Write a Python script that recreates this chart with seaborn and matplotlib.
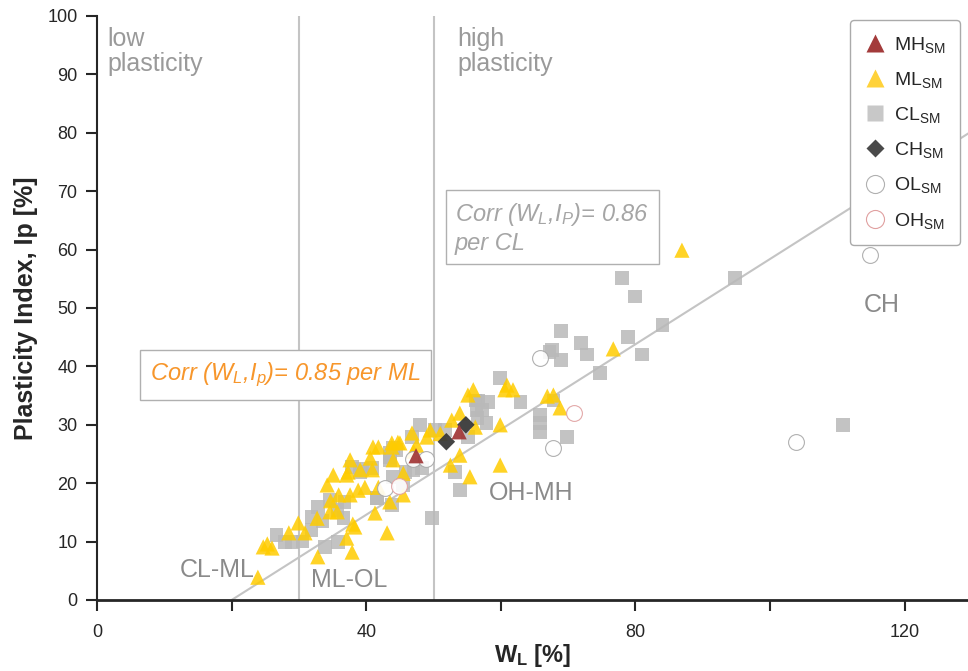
import matplotlib
matplotlib.use("Agg")
import matplotlib.pyplot as plt
import seaborn as sns
import pandas as pd
import numpy as np
from matplotlib.lines import Line2D

# liquid limit W_L [%] and plasticity index Ip [%] per soil group
wl_ml = [23.9, 24.7, 26.0, 25.3, 29.9, 30.9, 32.8, 32.7, 34.6, 35.7, 37.1, 37.9, 38.3, 35.1, 34.2,
         37.3, 38.8, 37.6, 39.8, 40.9, 39.1, 41.0, 41.8, 40.6, 41.3, 43.1, 43.5, 45.5, 43.8, 45.0,
         44.0, 46.8, 49.0, 47.5, 45.5, 41.8, 53.9, 52.5, 55.4, 59.9, 59.9, 53.9, 52.7, 55.1, 55.9,
         60.9, 61.8, 60.6, 56.2, 49.5, 86.9, 76.7, 66.9, 67.8, 68.8, 37.6, 37.1, 43.8, 44.7, 35.9,
         34.7, 38.0, 47.0, 51.0, 28.5]
ip_ml = [3.9, 9.1, 8.9, 9.6, 13.2, 11.5, 7.4, 14.0, 15.1, 15.1, 10.6, 8.2, 12.5, 21.4, 19.7,
         21.9, 18.8, 18.0, 19.3, 22.3, 22.3, 26.2, 26.2, 24.3, 14.9, 11.5, 16.8, 18.0, 26.9, 26.9,
         24.0, 28.6, 27.9, 26.5, 21.7, 19.3, 24.8, 23.1, 21.1, 23.1, 30.0, 32.0, 30.8, 35.1, 36.0,
         36.8, 36.0, 36.0, 29.6, 29.1, 59.9, 43.0, 34.9, 35.1, 32.9, 24.0, 21.4, 26.2, 27.0, 18.0,
         17.0, 13.0, 25.5, 28.5, 11.5]

wl_cl = [26.7, 27.9, 29.0, 31.9, 32.8, 33.9, 35.8, 31.9, 34.6, 36.8, 36.6, 35.7, 37.9, 39.1, 40.9,
         41.6, 43.8, 44.0, 45.8, 45.5, 44.0, 46.8, 48.0, 48.3, 49.8, 50.2, 51.7, 53.2, 53.9, 55.1,
         56.5, 57.2, 58.1, 57.9, 59.9, 62.9, 56.6, 47.0, 43.5, 78.0, 79.9, 84.0, 78.9, 81.0, 74.7,
         72.8, 71.9, 68.9, 67.2, 67.6, 68.9, 65.8, 65.8, 65.8, 69.8, 67.8, 56.2, 56.4, 94.8, 110.8,
         39.4, 43.5, 44.5, 41.6, 43.5, 30.5, 33.5]
ip_cl = [11.1, 9.9, 9.9, 12.0, 15.9, 9.1, 9.9, 14.2, 17.1, 16.8, 14.0, 15.4, 22.8, 21.9, 22.6,
         17.5, 16.3, 21.1, 21.9, 19.7, 26.0, 27.9, 30.0, 22.6, 14.0, 29.1, 29.1, 21.9, 18.8, 27.9,
         31.2, 32.5, 33.9, 30.3, 38.0, 33.9, 34.2, 22.3, 24.5, 55.1, 52.0, 47.1, 45.0, 42.0, 38.9,
         42.0, 44.0, 46.1, 42.5, 42.8, 41.1, 31.7, 30.3, 28.8, 27.9, 34.2, 34.2, 32.5, 55.1, 30.0,
         22.4, 25.2, 25.7, 17.5, 24.0, 10.0, 13.5]

wl_mh = [47.4, 53.8]
ip_mh = [24.7, 28.8]
wl_ch = [51.9, 54.8]
ip_ch = [27.1, 30.0]
wl_ol = [46.9, 48.9, 42.8, 65.8, 67.8, 103.9, 114.9]
ip_ol = [24.1, 24.1, 19.2, 41.4, 26.0, 27.1, 59.1]
wl_oh = [44.9, 70.9]
ip_oh = [19.5, 32.0]

sns.set_theme(style="ticks")
plt.rcParams['font.family'] = ['Liberation Sans', 'DejaVu Sans']
plt.rcParams['mathtext.fontset'] = 'custom'
plt.rcParams['mathtext.rm'] = 'Liberation Sans'
plt.rcParams['mathtext.it'] = 'Liberation Sans:italic'
plt.rcParams['mathtext.bf'] = 'Liberation Sans:bold'

fig = plt.figure(figsize=(9.68, 6.71), dpi=100)
ax = fig.add_axes([97/968, 71/671, 871/968, 584/671])

# helper lines: A-line and plasticity limits
aline_x = np.array([20, 130])
ax.plot(aline_x, 0.73*(aline_x-20), color='#c4c4c4', lw=1.5, zorder=1)
ax.axvline(30, color='#c4c4c4', lw=1.5, zorder=1)
ax.axvline(50, color='#c4c4c4', lw=1.5, zorder=1)

df_cl = pd.DataFrame({'WL': wl_cl, 'Ip': ip_cl})
df_ml = pd.DataFrame({'WL': wl_ml, 'Ip': ip_ml})
df_mh = pd.DataFrame({'WL': wl_mh, 'Ip': ip_mh})
df_ch = pd.DataFrame({'WL': wl_ch, 'Ip': ip_ch})
df_ol = pd.DataFrame({'WL': wl_ol, 'Ip': ip_ol})
df_oh = pd.DataFrame({'WL': wl_oh, 'Ip': ip_oh})

sns.scatterplot(data=df_cl, x='WL', y='Ip', ax=ax, marker='s', s=95, color='#b9b9b9',
                edgecolor='none', alpha=0.85, zorder=3)
sns.scatterplot(data=df_ml, x='WL', y='Ip', ax=ax, marker='^', s=120, color='#ffcc00',
                edgecolor='none', alpha=0.85, zorder=3)
sns.scatterplot(data=df_ol, x='WL', y='Ip', ax=ax, marker='o', s=130, color='white',
                edgecolor='#a8a8a8', linewidth=0.8, alpha=0.9, zorder=4)
sns.scatterplot(data=df_oh, x='WL', y='Ip', ax=ax, marker='o', s=130, color='white',
                edgecolor='#e0a0a0', linewidth=0.8, alpha=0.9, zorder=4)
sns.scatterplot(data=df_ch, x='WL', y='Ip', ax=ax, marker='D', s=80, color='#3a3a3a',
                edgecolor='none', alpha=0.95, zorder=5)
sns.scatterplot(data=df_mh, x='WL', y='Ip', ax=ax, marker='^', s=120, color='#a33b3b',
                edgecolor='none', alpha=0.95, zorder=5)

# legend
handles = [
    Line2D([], [], ls='none', marker='^', ms=13, color='#a33b3b', mec='none'),
    Line2D([], [], ls='none', marker='^', ms=13, color='#ffd23a', mec='none'),
    Line2D([], [], ls='none', marker='s', ms=12, color='#c8c8c8', mec='none'),
    Line2D([], [], ls='none', marker='D', ms=9, color='#4a4a4a', mec='none'),
    Line2D([], [], ls='none', marker='o', ms=13, mfc='white', mec='#b0b0b0', mew=0.8),
    Line2D([], [], ls='none', marker='o', ms=13, mfc='white', mec='#e0a0a0', mew=0.8),
]
labels = [r'MH$_{\mathrm{SM}}$', r'ML$_{\mathrm{SM}}$', r'CL$_{\mathrm{SM}}$',
          r'CH$_{\mathrm{SM}}$', r'OL$_{\mathrm{SM}}$', r'OH$_{\mathrm{SM}}$']
leg = ax.legend(handles, labels, loc='upper right', bbox_to_anchor=(0.991, 0.993),
                borderaxespad=0, fontsize=14, frameon=True, fancybox=True, framealpha=1,
                edgecolor='#aaaaaa', labelspacing=0.78, handletextpad=0.4,
                handlelength=1.1, borderpad=0.75)
leg.get_frame().set_linewidth(1.0)

grey = '#9a9a9a'
ax.text(1.6, 98.2, 'low\nplasticity', color=grey, fontsize=18, va='top', ha='left', linespacing=1.08)
ax.text(53.5, 98.2, 'high\nplasticity', color=grey, fontsize=18, va='top', ha='left', linespacing=1.08)
ax.text(116.6, 50.5, 'CH', color='#8a8a8a', fontsize=18, ha='center', va='center')
ax.text(64.5, 18.3, 'OH-MH', color='#8a8a8a', fontsize=18, ha='center', va='center')
ax.text(17.8, 5.1, 'CL-ML', color='#8a8a8a', fontsize=18, ha='center', va='center')
ax.text(37.5, 3.4, 'ML-OL', color='#8a8a8a', fontsize=18, ha='center', va='center')

ax.text(53.2, 68.3, 'Corr (W$_{L}$,I$_{P}$)= 0.86\nper CL', color='#a5a5a5', fontsize=17,
        style='italic', va='top', ha='left', linespacing=1.2,
        bbox=dict(boxstyle='square,pad=0.4', fc='white', ec='#b0b0b0', lw=1.0))
ax.text(7.9, 38.5, 'Corr (W$_{L}$,I$_{p}$)= 0.85 per ML', color='#f7962b', fontsize=17,
        style='italic', va='center', ha='left',
        bbox=dict(boxstyle='square,pad=0.45', fc='white', ec='#b0b0b0', lw=1.0))

ax.set_xlim(0, 129.4)
ax.set_ylim(0, 100)
ax.set_xticks(np.arange(0, 130, 20))
ax.set_xticklabels(['0', '', '40', '', '80', '', '120'])
ax.set_yticks(np.arange(0, 101, 10))
ax.tick_params(axis='both', labelsize=13, length=8, width=1.5, direction='out', pad=6)
ax.tick_params(axis='x', pad=9)
sns.despine(ax=ax, top=True, right=True)
ax.spines['left'].set_linewidth(1.5)
ax.spines['bottom'].set_linewidth(2)

ax.set_xlabel(r'W$_{\mathbf{L}}$ [%]', fontsize=17, fontweight='bold', labelpad=1)
ax.set_ylabel('Plasticity Index, Ip [%]', fontsize=18, fontweight='bold', labelpad=7)

fig.savefig('out.png', dpi=100)
